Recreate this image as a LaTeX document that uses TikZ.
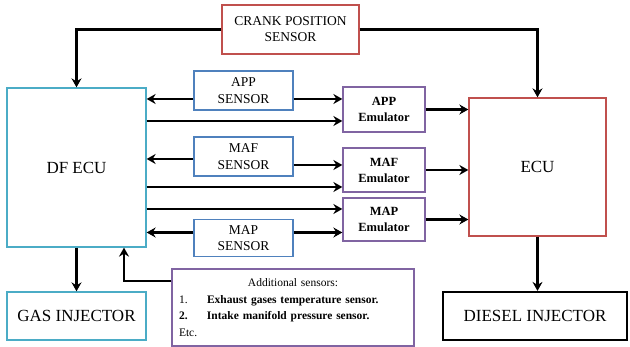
\documentclass[tikz,border=0pt]{standalone}
\usepackage{fontspec}
\setmainfont{Liberation Serif}
\usepackage{xcolor}
\usepackage{tikz}
\usetikzlibrary{arrows.meta}
\definecolor{boxred}{HTML}{C0504D}
\definecolor{boxcyan}{HTML}{4BACC6}
\definecolor{boxblue}{HTML}{4F81BD}
\definecolor{boxpurple}{HTML}{8064A2}
\tikzset{
  blk/.style = {rectangle, align=center, inner sep=0pt, line width=1.3pt,
    text=black},
  blk_r/.style = {blk, draw=boxred},% capteur / ECU, rouge
  blk_c/.style = {blk, draw=boxcyan, font=\fontsize{17}{20}\selectfont},% DF ECU, injecteur gaz
  blk_s/.style = {blk, draw=boxblue, minimum width=99pt,
    font=\fontsize{13.5}{16.5}\selectfont},% capteurs
  blk_e/.style = {blk, draw=boxpurple, minimum width=82pt,
    font=\fontsize{12.5}{16}\selectfont\bfseries},% emulateurs
  blk_k/.style = {blk, draw=black, line width=2.2pt,
    font=\fontsize{17}{20}\selectfont},% injecteur diesel
  sig/.style = {->, line width=2.4pt}% liaison
}

\begin{document}
\begin{tikzpicture}[x=1pt,y=-1pt,>={Stealth[length=9pt,width=10pt,inset=3pt]}]
\useasboundingbox (0,0) rectangle (630,347);
\node [blk_r, minimum width=137pt, minimum height=49pt,
  font=\fontsize{13.5}{16}\selectfont] (crank) at (290.5,29.5) {CRANK POSITION\\SENSOR};
\node [blk_c, minimum width=139pt, minimum height=159pt] (dfecu) at (76.5,167.5) {DF ECU};
\node [blk_c, minimum width=139pt, minimum height=48pt] (gas) at (76.5,316) {GAS INJECTOR};
\node [blk_s, minimum height=39pt] (appsen) at (243.5,90.5) {APP\\SENSOR};
\node [blk_s, minimum height=39pt] (mafsen) at (243.5,156.5) {MAF\\SENSOR};
\node [blk_s, minimum height=37pt] (mapsen) at (243.5,238) {MAP\\SENSOR};
\node [blk_e, minimum height=45pt] (appemu) at (384,109.5) {APP\\Emulator};
\node [blk_e, minimum height=44pt] (mafemu) at (384,170) {MAF\\Emulator};
\node [blk_e, minimum height=43pt] (mapemu) at (384,219.5) {MAP\\Emulator};
\node [blk_r, minimum width=137pt, minimum height=138pt,
  font=\fontsize{17}{20}\selectfont] (ecu) at (537.5,167) {ECU};
\node [blk_k, minimum width=184pt, minimum height=48pt] (diesel) at (535,316) {DIESEL INJECTOR};
\node [blk, draw=boxpurple, minimum width=242pt, minimum height=77pt,
  text width=228pt, align=left, font=\fontsize{11.5}{16.5}\selectfont]
  (addsen) at (293,307.5)
  {\makebox[228pt]{Additional sensors:}\\
   \makebox[28pt][l]{1.}\textbf{Exhaust gases temperature sensor.}\\
   \makebox[28pt][l]{\textbf{2.}}\textbf{Intake manifold pressure sensor.}\\
   Etc.};

% crank
\draw [sig] (crank.west) -| (dfecu.north);
\draw [sig] (crank.east) -| (ecu.north);
% APP
\draw [sig] ([yshift=-8.5pt]appsen.west) -- ([yshift=-8.5pt]appsen.west -| dfecu.east);
\draw [sig] ([yshift=-8.5pt]appsen.east) -- ([yshift=-8.5pt]appsen.east -| appemu.west);
\draw [sig] ([yshift=-11.5pt]appemu.west -| dfecu.east) -- ([yshift=-11.5pt]appemu.west);
\draw [sig] (appemu.east) -- (appemu.east -| ecu.west);
% MAF
\draw [sig] ([yshift=-2.5pt]mafsen.west) -- ([yshift=-2.5pt]mafsen.west -| dfecu.east);
\draw [sig] ([yshift=-8.5pt]mafsen.east) -- ([yshift=-8.5pt]mafsen.east -| mafemu.west);
\draw [sig] ([yshift=-17pt]mafemu.west -| dfecu.east) -- ([yshift=-17pt]mafemu.west);
\draw [sig] (mafemu.east) -- (mafemu.east -| ecu.west);
% MAP
\draw [sig] ([yshift=10.5pt]mapemu.west -| dfecu.east) -- ([yshift=10.5pt]mapemu.west);
\draw [sig] ([yshift=5.5pt]mapsen.west) -- ([yshift=5.5pt]mapsen.west -| dfecu.east);
\draw [sig] ([yshift=5.5pt]mapsen.east) -- ([yshift=5.5pt]mapsen.east -| mapemu.west);
\draw [sig] (mapemu.east) -- (mapemu.east -| ecu.west);
% injecteurs
\draw [sig] (dfecu.south) -- (gas.north);
\draw [sig] (ecu.south) -- (ecu.south |- diesel.north);
\draw [sig] ([yshift=26.5pt]addsen.west) -| ([xshift=47.5pt]dfecu.south);
\end{tikzpicture}
\end{document}
